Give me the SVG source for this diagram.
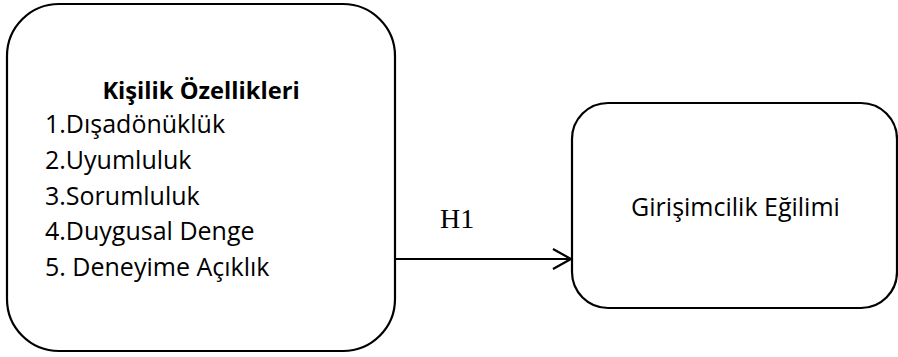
<svg xmlns="http://www.w3.org/2000/svg" width="898" height="357" viewBox="0 0 898 357">
<style>
.box{fill:#fff;stroke:#000;stroke-width:2.2}
.t{font-family:"Open Sans","Liberation Sans",sans-serif;font-size:25px;fill:#000}
.b{font-weight:bold;font-size:23.7px}
.s{font-family:"Liberation Serif",serif;font-size:28px;fill:#000}
.c{fill:none;stroke:#000;stroke-width:2.2}
</style>
<rect width="898" height="357" fill="#fff"/>
<g id="kisilik">
<rect class="box" x="7" y="4" width="388" height="347" rx="52" ry="52"/>
<text class="t b" x="201" y="99" text-anchor="middle">Kişilik Özellikleri</text>
<text class="t" x="45" y="133">1.Dışadönüklük</text>
<text class="t" x="45" y="169">2.Uyumluluk</text>
<text class="t" x="45" y="205">3.Sorumluluk</text>
<text class="t" x="45" y="240">4.Duygusal Denge</text>
<text class="t" x="45" y="276">5. Deneyime Açıklık</text>
</g>
<g id="girisimcilik">
<rect class="box" x="572" y="103" width="325" height="205" rx="36" ry="36"/>
<text class="t" x="735.5" y="216" text-anchor="middle">Girişimcilik Eğilimi</text>
</g>
<g id="connectors">
<line class="c" x1="395" y1="259" x2="571" y2="259"/>
<polyline class="c" points="553,249 571,259 553,269"/>
<text class="s" x="440" y="228">H1</text>
</g>
</svg>
